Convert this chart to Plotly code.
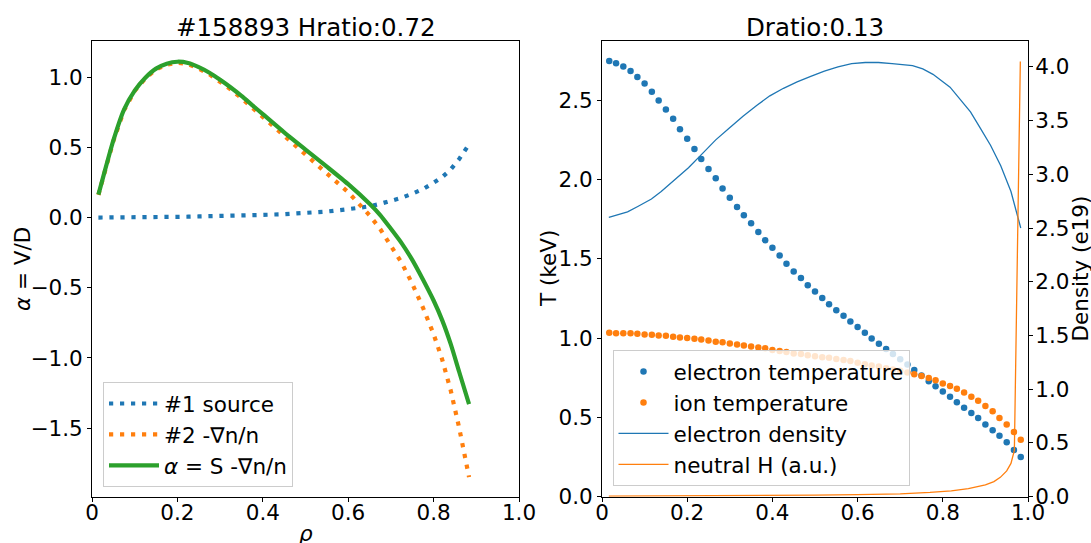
import plotly.graph_objects as go

# ---------------- Left panel data ----------------
rho_a = [0.015, 0.03, 0.05, 0.075, 0.1, 0.125, 0.15, 0.175, 0.2, 0.225, 0.25, 0.275,
         0.3, 0.325, 0.35, 0.375, 0.4, 0.45, 0.5, 0.55, 0.6, 0.65, 0.675,
         0.7, 0.725, 0.75, 0.775, 0.8, 0.82, 0.84, 0.86, 0.883]
source = [0.002, 0.002, 0.002, 0.003, 0.004, 0.005, 0.005, 0.006, 0.007, 0.008, 0.010, 0.011,
          0.013, 0.014, 0.016, 0.018, 0.021, 0.026, 0.033, 0.045, 0.062, 0.082, 0.100,
          0.120, 0.143, 0.172, 0.205, 0.250, 0.290, 0.345, 0.420, 0.525]
gradn = [0.164, 0.330, 0.548, 0.767, 0.906, 0.995, 1.060, 1.094, 1.107, 1.097, 1.065, 1.024,
         0.972, 0.916, 0.854, 0.787, 0.719, 0.584, 0.454, 0.320, 0.183, 0.018, -0.080,
         -0.200, -0.320, -0.470, -0.640, -0.830, -1.010, -1.230, -1.500, -1.850]
alpha = [0.166, 0.335, 0.553, 0.773, 0.908, 1.000, 1.065, 1.100, 1.114, 1.105, 1.075, 1.035,
         0.985, 0.930, 0.870, 0.805, 0.740, 0.610, 0.487, 0.365, 0.240, 0.100, 0.020,
         -0.078, -0.180, -0.300, -0.440, -0.590, -0.730, -0.900, -1.100, -1.330]

# ---------------- Right panel data ----------------
rho_b = [0.017, 0.033, 0.050, 0.067, 0.083, 0.100, 0.117, 0.133, 0.150, 0.167,
         0.183, 0.200, 0.217, 0.233, 0.250, 0.267, 0.283, 0.300, 0.317, 0.333,
         0.350, 0.367, 0.383, 0.400, 0.417, 0.433, 0.450, 0.467, 0.483, 0.500,
         0.517, 0.533, 0.550, 0.567, 0.583, 0.600, 0.617, 0.633, 0.650, 0.667,
         0.683, 0.700, 0.717, 0.733, 0.750, 0.767, 0.783, 0.800, 0.817, 0.833,
         0.850, 0.867, 0.883, 0.900, 0.917, 0.933, 0.950, 0.967, 0.983]
te = [2.749, 2.734, 2.714, 2.686, 2.648, 2.607, 2.555, 2.500, 2.443, 2.384,
      2.319, 2.258, 2.194, 2.131, 2.068, 2.009, 1.945, 1.886, 1.828, 1.775,
      1.725, 1.670, 1.618, 1.570, 1.522, 1.469, 1.421, 1.380, 1.334, 1.295,
      1.253, 1.214, 1.177, 1.142, 1.105, 1.070, 1.035, 0.998, 0.965, 0.932,
      0.900, 0.867, 0.834, 0.799, 0.764, 0.729, 0.697, 0.664, 0.631, 0.596,
      0.561, 0.528, 0.496, 0.456, 0.419, 0.384, 0.343, 0.295, 0.251]
ti = [1.035, 1.031, 1.031, 1.031, 1.028, 1.024, 1.022, 1.017, 1.015, 1.009,
      1.004, 1.002, 0.996, 0.991, 0.985, 0.978, 0.974, 0.967, 0.961, 0.954,
      0.948, 0.941, 0.937, 0.926, 0.919, 0.913, 0.904, 0.900, 0.893, 0.886,
      0.880, 0.876, 0.869, 0.862, 0.856, 0.845, 0.836, 0.828, 0.821, 0.810,
      0.803, 0.795, 0.784, 0.773, 0.762, 0.749, 0.734, 0.714, 0.699, 0.681,
      0.657, 0.631, 0.605, 0.572, 0.539, 0.496, 0.456, 0.408, 0.360]

rho_ne = [0.016, 0.036, 0.060, 0.084, 0.116, 0.139, 0.171, 0.203, 0.235, 0.267,
          0.299, 0.331, 0.363, 0.394, 0.426, 0.458, 0.490, 0.522, 0.554, 0.586,
          0.618, 0.649, 0.681, 0.713, 0.729, 0.753, 0.777, 0.817, 0.841, 0.865,
          0.888, 0.912, 0.936, 0.960, 0.983]
ne = [2.60, 2.62, 2.65, 2.70, 2.77, 2.84, 2.95, 3.06, 3.19, 3.32,
      3.43, 3.54, 3.64, 3.73, 3.80, 3.86, 3.91, 3.96, 4.00, 4.03,
      4.04, 4.04, 4.03, 4.02, 4.01, 3.98, 3.93, 3.81, 3.70, 3.58,
      3.43, 3.27, 3.08, 2.84, 2.50]

rho_nh = [0.016, 0.2, 0.4, 0.5, 0.6, 0.7, 0.77, 0.82, 0.86, 0.9, 0.92, 0.935,
          0.95, 0.96, 0.968, 0.982]
nh = [0.005, 0.007, 0.011, 0.014, 0.019, 0.027, 0.040, 0.055, 0.075, 0.110, 0.140, 0.180,
      0.240, 0.310, 0.430, 4.050]

x_ticks = [0, 0.2, 0.4, 0.6, 0.8, 1.0]
x_ticktext = ["0", "0.2", "0.4", "0.6", "0.8", "1.0"]
ya_ticks = [-1.5, -1.0, -0.5, 0.0, 0.5, 1.0]
ya_ticktext = ["\u22121.5", "\u22121.0", "\u22120.5", "0.0", "0.5", "1.0"]
yt_ticks = [0.0, 0.5, 1.0, 1.5, 2.0, 2.5]
yt_ticktext = ["0.0", "0.5", "1.0", "1.5", "2.0", "2.5"]
yd_ticks = [0.0, 0.5, 1.0, 1.5, 2.0, 2.5, 3.0, 3.5, 4.0]
yd_ticktext = ["0.0", "0.5", "1.0", "1.5", "2.0", "2.5", "3.0", "3.5", "4.0"]

BLUE = "#1f77b4"
ORANGE = "#ff7f0e"
GREEN = "#2ca02c"
FONT = "DejaVu Sans"
FS = 21.5
W, H = 1091, 543

fig = go.Figure()

# Left panel
fig.add_trace(go.Scatter(x=rho_a, y=source, mode="lines", name="#1 source",
                         line=dict(color=BLUE, width=4.2, dash="4.2px,6.8px"),
                         xaxis="x", yaxis="y", legend="legend"))
fig.add_trace(go.Scatter(x=rho_a, y=gradn, mode="lines", name="#2 -\u2207n/n",
                         line=dict(color=ORANGE, width=4.2, dash="4.2px,6.8px"),
                         xaxis="x", yaxis="y", legend="legend"))
fig.add_trace(go.Scatter(x=rho_a, y=alpha, mode="lines", name="<i>\u03b1</i> = S -\u2207n/n",
                         line=dict(color=GREEN, width=4.2, shape="spline", smoothing=0.6),
                         xaxis="x", yaxis="y", legend="legend"))

# Right panel
fig.add_trace(go.Scatter(x=rho_b, y=te, mode="markers", name="electron temperature",
                         marker=dict(color=BLUE, size=6.5),
                         xaxis="x2", yaxis="y2", legend="legend2"))
fig.add_trace(go.Scatter(x=rho_b, y=ti, mode="markers", name="ion temperature",
                         marker=dict(color=ORANGE, size=6.5),
                         xaxis="x2", yaxis="y2", legend="legend2"))
fig.add_trace(go.Scatter(x=rho_ne, y=ne, mode="lines", name="electron density",
                         line=dict(color=BLUE, width=1.3),
                         xaxis="x2", yaxis="y3", legend="legend2"))
fig.add_trace(go.Scatter(x=rho_nh, y=nh, mode="lines", name="neutral H (a.u.)",
                         line=dict(color=ORANGE, width=1.3),
                         xaxis="x2", yaxis="y3", legend="legend2"))

L_x0, L_x1 = 92 / W, 519 / W
R_x0, R_x1 = 602 / W, 1028 / W
Y0, Y1 = 1 - 496.7 / H, 1 - 41 / H

axis_common = dict(showline=True, linecolor="black", linewidth=1, ticks="outside",
                   ticklen=4, tickwidth=1, tickcolor="black", showgrid=False,
                   zeroline=False, automargin=False,
                   tickfont=dict(family=FONT, size=FS, color="black"))

fig.update_layout(
    width=W, height=H,
    margin=dict(l=0, r=0, t=0, b=0),
    paper_bgcolor="white", plot_bgcolor="white",
    font=dict(family=FONT, size=FS, color="black"),
    xaxis=dict(domain=[L_x0, L_x1], range=[0, 1], anchor="y", mirror=True,
               tickvals=x_ticks, ticktext=x_ticktext, ticklabelstandoff=-8, **axis_common),
    yaxis=dict(domain=[Y0, Y1], range=[-1.99, 1.262], anchor="x", mirror=True,
               tickvals=ya_ticks, ticktext=ya_ticktext, **axis_common),
    xaxis2=dict(domain=[R_x0, R_x1], range=[0, 1], anchor="y2", mirror=True,
                tickvals=x_ticks, ticktext=x_ticktext, ticklabelstandoff=-8, **axis_common),
    yaxis2=dict(domain=[Y0, Y1], range=[0, 2.875], anchor="x2", side="left",
                tickvals=yt_ticks, ticktext=yt_ticktext, **axis_common),
    yaxis3=dict(range=[0, 4.24], anchor="x2", overlaying="y2", side="right",
                tickvals=yd_ticks, ticktext=yd_ticktext, ticklabelstandoff=-2, **axis_common),
    legend=dict(x=103 / W, y=1 - 487 / H, xanchor="left", yanchor="bottom",
                bgcolor="rgba(255,255,255,0.8)", bordercolor="#cccccc", borderwidth=1,
                itemwidth=50, tracegroupgap=0,
                font=dict(family=FONT, size=FS, color="black")),
    legend2=dict(x=612.5 / W, y=1 - 486 / H, xanchor="left", yanchor="bottom",
                 bgcolor="rgba(255,255,255,0.8)", bordercolor="#cccccc", borderwidth=1,
                 itemwidth=50,
                 font=dict(family=FONT, size=FS, color="black")),
    showlegend=True,
)

annotations = [
    dict(text="#158893 Hratio:0.72", x=(L_x0 + L_x1) / 2, y=1 - 28 / H,
         xref="paper", yref="paper", xanchor="center", yanchor="middle",
         showarrow=False, font=dict(family=FONT, size=24.5, color="black")),
    dict(text="Dratio:0.13", x=(R_x0 + R_x1) / 2, y=1 - 28 / H,
         xref="paper", yref="paper", xanchor="center", yanchor="middle",
         showarrow=False, font=dict(family=FONT, size=24.5, color="black")),
    dict(text="<i>\u03b1</i> = V/D", x=22 / W, y=1 - 269 / H, textangle=-90,
         xref="paper", yref="paper", xanchor="center", yanchor="middle",
         showarrow=False, font=dict(family=FONT, size=FS, color="black")),
    dict(text="T (keV)", x=548 / W, y=1 - 269 / H, textangle=-90,
         xref="paper", yref="paper", xanchor="center", yanchor="middle",
         showarrow=False, font=dict(family=FONT, size=FS, color="black")),
    dict(text="Density (e19)", x=1079.5 / W, y=1 - 269 / H, textangle=-90,
         xref="paper", yref="paper", xanchor="center", yanchor="middle",
         showarrow=False, font=dict(family=FONT, size=FS, color="black")),
    dict(text="<i>\u03c1</i>", x=(L_x0 + L_x1) / 2, y=1 - 519 / H,
         xref="paper", yref="paper", xanchor="center", yanchor="top",
         showarrow=False, font=dict(family=FONT, size=FS, color="black")),
]
fig.update_layout(annotations=annotations)

fig.write_html("out.html")
